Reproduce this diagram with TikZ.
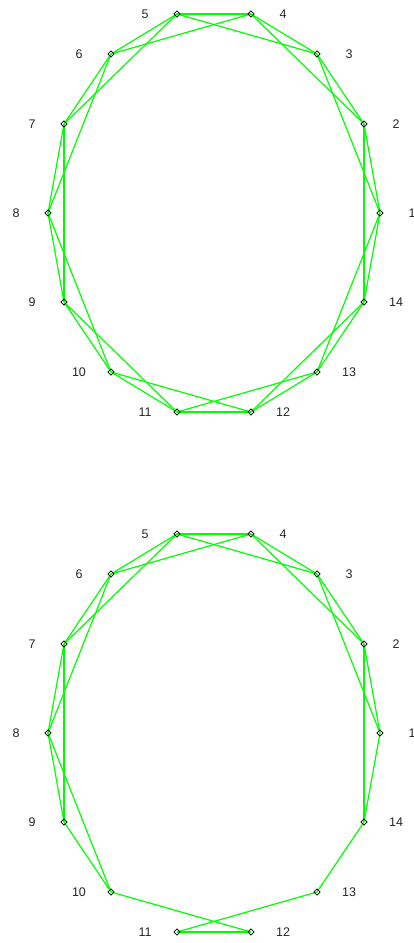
\documentclass[tikz,border=0pt]{standalone}
\usepackage{fontspec}
\setmainfont{Liberation Sans}
\usetikzlibrary{shapes.geometric}

\begin{document}
\begin{tikzpicture}[x=1pt, y=-1pt,
    vertex/.style={draw, diamond, inner sep=0pt, minimum size=6.5pt, line width=0.7pt},
    edge/.style={draw=green, line width=1.2pt},
    lbl/.style={font=\fontsize{12.5}{14}\selectfont, text=black!85}]
  \useasboundingbox (0,0) rectangle (414,943);
  % points on the two ellipses
  \foreach \g/\dy in {t/0, b/520} {
    \foreach \k in {1,...,14} {
      \pgfmathsetmacro{\ang}{(\k-1)*360/14}
      \pgfmathsetmacro{\px}{round(214+166*cos(\ang))}
      \pgfmathsetmacro{\py}{round(213-204*sin(\ang))+\dy}
      \coordinate (\g\k) at (\px, \py);
      \node[lbl] (\g l\k) at ({\px+32*sign(cos(\ang))}, \py) {\k};
    }
  }
  % upper graph: neighbours at distance one and two
  \foreach \i [evaluate=\i as \j using {int(mod(\i,14)+1)},
               evaluate=\i as \m using {int(mod(\i+1,14)+1)}] in {1,...,14} {
    \draw[edge] (t\i) -- (t\j);
    \draw[edge] (t\i) -- (t\m);
  }
  % lower graph
  \foreach \i/\j in {1/2, 1/3, 1/14, 2/3, 2/4, 2/14, 3/4, 3/5, 4/5, 4/6, 5/6, 5/7,
                     6/7, 6/8, 7/8, 7/9, 8/9, 8/10, 9/10, 10/12, 11/12, 11/13, 13/14}
    \draw[edge] (b\i) -- (b\j);
  % markers
  \foreach \g in {t, b}
    \foreach \k in {1,...,14}
      \node[vertex] (\g v\k) at (\g\k) {};
\end{tikzpicture}
\end{document}
